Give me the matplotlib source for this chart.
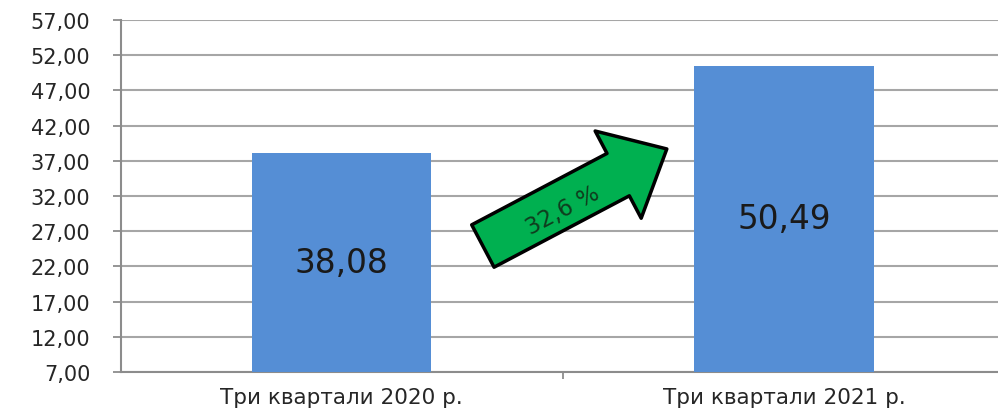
import matplotlib
matplotlib.use("Agg")
import matplotlib.pyplot as plt
from matplotlib.patches import FancyArrowPatch

# Chart data
categories = ["Три квартали 2020 р.", "Три квартали 2021 р."]
values = [38.08, 50.49]
value_labels = ["38,08", "50,49"]
growth_label = "32,6 %"
y_ticks = [7, 12, 17, 22, 27, 32, 37, 42, 47, 52, 57]

BAR_COLOR = "#558ED5"
GRID_COLOR = "#A6A6A6"
AXIS_COLOR = "#8C8C8C"
TEXT_COLOR = "#262626"

plt.rcParams["font.family"] = ["DejaVu Sans"]

fig = plt.figure(figsize=(9.98, 4.10), dpi=100)
ax = fig.add_axes([0.121, 0.090, 0.879, 0.859])

x = list(range(len(categories)))
y_min = y_ticks[0]
ax.bar(x, [v - y_min for v in values], bottom=y_min, width=0.405,
       color=BAR_COLOR, zorder=3)

for xi, v, lab in zip(x, values, value_labels):
    ax.text(xi, (v + y_min) / 2, lab, ha="center", va="center",
            fontsize=23.5, color="#1A1A1A", zorder=4)

ax.set_ylim(y_ticks[0], y_ticks[-1])
ax.set_xlim(-0.5, 1.484)
ax.set_yticks(y_ticks)
ax.set_yticklabels([f"{t:.2f}".replace(".", ",") for t in y_ticks],
                   fontsize=15, color=TEXT_COLOR)
ax.set_xticks(x)
ax.set_xticklabels(categories, fontsize=15.5, color=TEXT_COLOR)
ax.tick_params(axis="x", length=0, pad=11)
ax.set_xticks([0.5], minor=True)
ax.tick_params(axis="x", which="minor", length=5, width=1.3, color=AXIS_COLOR,
               direction="out")
ax.tick_params(axis="y", length=6, width=1.3, color=AXIS_COLOR, pad=16,
               direction="out")

ax.yaxis.grid(True, color=GRID_COLOR, linewidth=1.5, zorder=0)
ax.set_axisbelow(True)
for side in ["top", "right"]:
    ax.spines[side].set_visible(False)
for side in ["left", "bottom"]:
    ax.spines[side].set_color(AXIS_COLOR)
    ax.spines[side].set_linewidth(1.5)

# growth arrow between the bars
arrow = FancyArrowPatch(
    (0.319, 24.9), (0.735, 38.68),
    arrowstyle="simple,head_length=3.96,head_width=7.1,tail_width=3.45",
    mutation_scale=10, shrinkA=0, shrinkB=0,
    facecolor="#00B050", edgecolor="black", linewidth=2.5, zorder=5,
)
ax.add_patch(arrow)
ax.text(0.5, 30.1, growth_label, ha="center", va="center", rotation=28,
        fontsize=16.5, color="#0F3D1E", zorder=6)

fig.savefig("out.png", dpi=100)
